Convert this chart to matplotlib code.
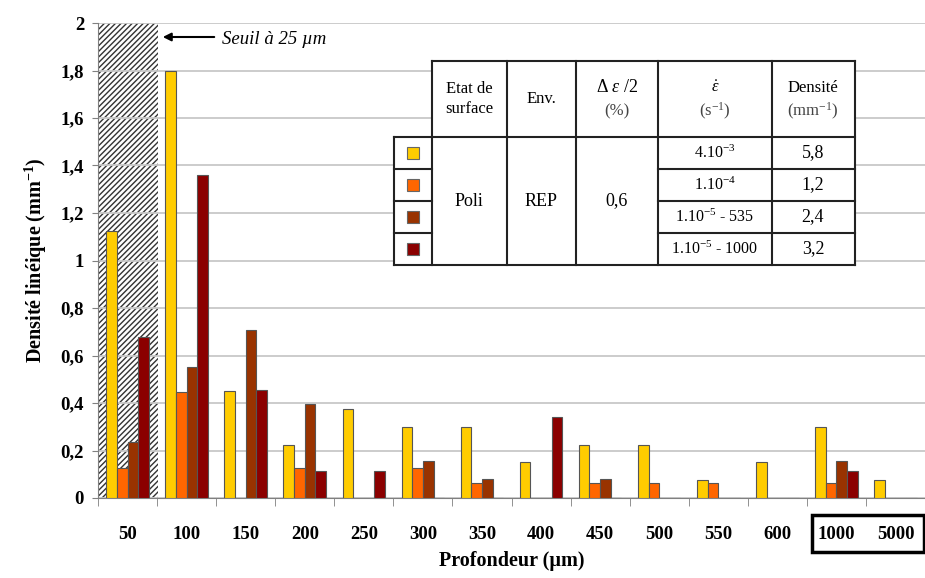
import matplotlib.pyplot as plt
import numpy as np
from matplotlib.patches import Rectangle

plt.rcParams['mathtext.fontset'] = 'custom'
plt.rcParams['mathtext.rm'] = 'Liberation Serif'
plt.rcParams['mathtext.it'] = 'Liberation Serif:italic'
plt.rcParams['mathtext.bf'] = 'Liberation Serif:bold'

# data
profondeur = ['50', '100', '150', '200', '250', '300', '350', '400', '450', '500',
              '550', '600', '1000', '5000']
dens_4e3 = [1.125, 1.8, 0.45, 0.225, 0.375, 0.3, 0.3, 0.15, 0.225, 0.225, 0.075, 0.15, 0.3, 0.075]
dens_1e4 = [0.128, 0.448, 0, 0.128, 0, 0.128, 0.064, 0, 0.064, 0.064, 0.064, 0, 0.064, 0]
dens_1e5_535 = [0.236, 0.551, 0.709, 0.394, 0, 0.157, 0.079, 0, 0.079, 0, 0, 0, 0.157, 0]
dens_1e5_1000 = [0.68, 1.36, 0.453, 0.113, 0.113, 0, 0, 0.34, 0, 0, 0, 0, 0.113, 0]
series = [dens_4e3, dens_1e4, dens_1e5_535, dens_1e5_1000]
colors = ['#FFCC00', '#FF6600', '#993300', '#8B0000']

rates = ['4.10$^{-3}$', '1.10$^{-4}$', '1.10$^{-5}$ - 535', '1.10$^{-5}$ - 1000']
densites = ['5,8', '1,2', '2,4', '3,2']

W, H = 925, 578
fig = plt.figure(figsize=(W / 100, H / 100), dpi=100)
ax = fig.add_axes([98 / W, 1 - 498 / H, 1 - 98 / W, (498 - 23) / H])

def px(x, y):
    # pixel (from top-left) to figure fraction
    return x / W, 1 - y / H

x = np.arange(len(profondeur))
bw = 0.18
for i, (vals, c) in enumerate(zip(series, colors)):
    ax.bar(x + (i - 1.5) * bw, vals, bw, color=c, edgecolor='#555555', linewidth=0.8, zorder=3)

# hatched zone below 25 um threshold
ax.add_patch(Rectangle((-0.5, 0), 1.02, 2, facecolor='white', edgecolor='#333333',
                       hatch='//////', linewidth=0, zorder=1))

ax.set_xlim(-0.5, len(profondeur) - 0.5)
ax.set_ylim(0, 2)
ax.set_yticks(np.arange(0, 2.01, 0.2))
ax.set_yticklabels(['0', '0,2', '0,4', '0,6', '0,8', '1', '1,2', '1,4', '1,6', '1,8', '2'],
                   fontfamily='Liberation Serif', fontweight='bold', fontsize=13.5)
ax.yaxis.grid(True, color='#c8c8c8', linewidth=1.3, zorder=2)
ax.set_xticks(x)
ax.set_xticklabels(profondeur, fontfamily='Liberation Serif', fontweight='bold', fontsize=13.5)
ax.set_xticks(np.arange(-0.5, len(profondeur), 1), minor=True)
ax.tick_params(axis='x', which='major', length=0, pad=20)
ax.tick_params(axis='x', which='minor', length=6, color='#808080')
ax.tick_params(axis='y', length=4, color='#808080', pad=6)
for s in ['top', 'right']:
    ax.spines[s].set_visible(False)
ax.spines['left'].set_color('#808080')
ax.spines['bottom'].set_color('#808080')

ax.set_xlabel('Profondeur (µm)', fontfamily='Liberation Serif', fontweight='bold',
              fontsize=14.5, labelpad=6)
ax.set_ylabel('Densité linéique (mm$^{\\mathbf{-1}}$)', fontfamily='Liberation Serif',
              fontweight='bold', fontsize=14.5, labelpad=8)

# threshold annotation
fig.text(*px(222, 40), 'Seuil à 25 µm', fontfamily='Liberation Serif', style='italic',
         fontsize=13.5, va='center', ha='left')
ax.annotate('', xy=px(160, 37), xytext=px(217, 37), xycoords='figure fraction',
            textcoords='figure fraction',
            arrowprops=dict(arrowstyle='-|>', color='black', lw=1.5, mutation_scale=12))

# box around the last two labels
fig.patches.append(Rectangle(px(812, 552), (W - 813) / W, 37 / H, transform=fig.transFigure,
                             fill=False, edgecolor='black', linewidth=2.5))

# table drawn by hand
cols = [394, 432, 507, 576, 658, 772, 855]
top, head_bot = 61, 137
rows = [137, 169, 201, 233, 265]
tf = fig.transFigure
fig.patches.append(Rectangle(px(432, head_bot), (855 - 432) / W, (head_bot - top) / H,
                             transform=tf, facecolor='white', edgecolor='none', zorder=5))
fig.patches.append(Rectangle(px(394, 265), (855 - 394) / W, (265 - 137) / H,
                             transform=tf, facecolor='white', edgecolor='none', zorder=5))

def line(x0, y0, x1, y1):
    fig.add_artist(plt.Line2D([x0 / W, x1 / W], [1 - y0 / H, 1 - y1 / H], transform=tf,
                              color='#222222', linewidth=1.5, zorder=6))

for cx in cols[1:]:
    line(cx, top, cx, 265)
line(394, 137, 394, 265)
line(432, top, 855, top)
line(394, head_bot, 855, head_bot)
line(394, 265, 855, 265)
for ry in rows[1:-1]:
    line(394, ry, 432, ry)
    line(658, ry, 855, ry)

tkw = dict(fontfamily='Liberation Serif', fontsize=12, ha='center', va='center', zorder=7)
fig.text(*px(469, 99), 'Etat de\nsurface', linespacing=1.4, **tkw)
fig.text(*px(541, 99), 'Env.', **tkw)
fig.text(*px(617, 88), '$\\Delta\\ \\epsilon\\ /2$', **dict(tkw, fontsize=13))
fig.text(*px(617, 111), '(%)', color='#444444', **tkw)
fig.text(*px(715, 88), '$\\dot{\\epsilon}$', **dict(tkw, fontsize=12))
fig.text(*px(715, 111), '(s$^{-1}$)', color='#444444', **tkw)
fig.text(*px(813, 88), 'Densité', **tkw)
fig.text(*px(813, 111), '(mm$^{-1}$)', color='#444444', **tkw)
fig.text(*px(469, 201), 'Poli', **dict(tkw, fontsize=13))
fig.text(*px(541, 201), 'REP', **dict(tkw, fontsize=13))
fig.text(*px(617, 201), '0,6', **dict(tkw, fontsize=13))
for i in range(4):
    yc = (rows[i] + rows[i + 1]) / 2
    fig.text(*px(715, yc), rates[i], **dict(tkw, fontsize=11.5))
    fig.text(*px(813, yc), densites[i], **dict(tkw, fontsize=13))
    fig.patches.append(Rectangle(px(407, yc + 6), 12 / W, 12 / H, transform=tf,
                                 facecolor=colors[i], edgecolor='#666666', linewidth=0.8,
                                 zorder=7))

fig.savefig('out.png', dpi=100)
